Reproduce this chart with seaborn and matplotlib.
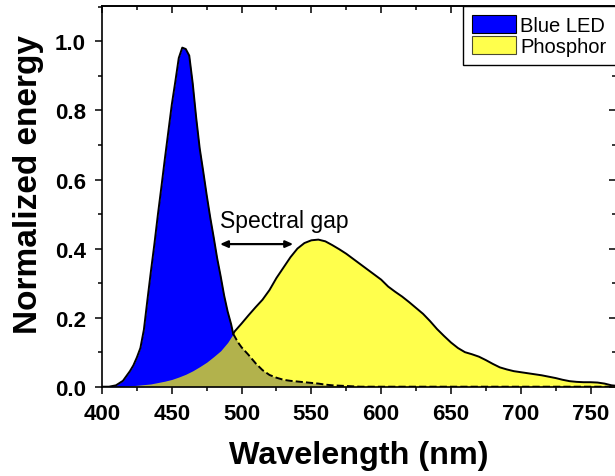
import numpy as np
import pandas as pd
import matplotlib
matplotlib.use("Agg")
import matplotlib.pyplot as plt
from matplotlib.patches import Patch
from matplotlib.ticker import MultipleLocator
import seaborn as sns

# ---------------- data ----------------
blue_wavelength = [400, 405, 410, 415, 420, 422.5, 425, 427.5, 430, 432.5,
                   435, 437.5, 440, 442.5, 445, 447.5, 450, 452.5, 455, 457.5,
                   460, 462.5, 465, 467.5, 470, 472.5, 475, 477.5, 480, 482.5,
                   485, 487.5, 490, 492.5, 494, 497.5, 500, 502.5, 505, 510,
                   515, 520, 525, 530, 535, 540, 545, 550, 555, 560,
                   565, 570, 575, 580, 585, 600, 650, 700, 770]
blue_led = [0.000, 0.000, 0.004, 0.017, 0.045, 0.062, 0.085, 0.112, 0.165, 0.250,
            0.333, 0.412, 0.497, 0.577, 0.659, 0.738, 0.817, 0.883, 0.952, 0.982,
            0.978, 0.959, 0.878, 0.778, 0.690, 0.624, 0.555, 0.491, 0.433, 0.372,
            0.320, 0.264, 0.218, 0.181, 0.153, 0.128, 0.114, 0.103, 0.092, 0.068,
            0.048, 0.034, 0.026, 0.020, 0.017, 0.015, 0.013, 0.011, 0.009, 0.006,
            0.004, 0.003, 0.002, 0.001, 0.000, 0.000, 0.000, 0.000, 0.000]

phosphor_wavelength = [400, 405, 410, 415, 420, 425, 430, 435, 440, 445,
                       450, 455, 460, 465, 470, 475, 480, 485, 490, 494,
                       495, 500, 505, 510, 515, 520, 525, 530, 535, 540,
                       545, 550, 555, 560, 565, 570, 575, 580, 585, 590,
                       595, 600, 605, 610, 615, 620, 625, 630, 635, 640,
                       645, 650, 655, 660, 665, 670, 675, 680, 685, 690,
                       695, 700, 705, 710, 715, 720, 725, 730, 735, 740,
                       745, 750, 755, 760, 765, 770]
phosphor = [0.000, 0.000, 0.000, 0.001, 0.002, 0.004, 0.006, 0.008, 0.012, 0.016,
            0.021, 0.028, 0.036, 0.046, 0.058, 0.071, 0.087, 0.104, 0.128, 0.153,
            0.160, 0.183, 0.207, 0.230, 0.252, 0.280, 0.315, 0.345, 0.375, 0.400,
            0.416, 0.424, 0.426, 0.421, 0.410, 0.398, 0.385, 0.370, 0.355, 0.340,
            0.325, 0.310, 0.290, 0.275, 0.261, 0.245, 0.228, 0.211, 0.190, 0.167,
            0.147, 0.128, 0.112, 0.100, 0.094, 0.087, 0.077, 0.066, 0.056, 0.050,
            0.045, 0.042, 0.039, 0.036, 0.033, 0.029, 0.025, 0.020, 0.016, 0.014,
            0.013, 0.013, 0.012, 0.009, 0.004, 0.002]

crossing_wavelength = 494  # where the phosphor curve rises above the LED tail
series_labels = ["Blue LED", "Phosphor"]
x_label = "Wavelength (nm)"
y_label = "Normalized energy"
gap_label = "Spectral gap"
x_ticks = [400, 450, 500, 550, 600, 650, 700, 750]
y_ticks = [0.0, 0.2, 0.4, 0.6, 0.8, 1.0]

# ---------------- style ----------------
sns.set_style("ticks")
plt.rcParams["font.family"] = ["Liberation Sans", "DejaVu Sans"]
plt.rcParams["text.color"] = "black"
plt.rcParams["axes.labelcolor"] = "black"
plt.rcParams["xtick.color"] = "black"
plt.rcParams["ytick.color"] = "black"
plt.rcParams["axes.edgecolor"] = "black"

blue_df = pd.DataFrame({"wl": blue_wavelength, "val": blue_led})
phos_df = pd.DataFrame({"wl": phosphor_wavelength, "val": phosphor})

fig = plt.figure(figsize=(6.15, 4.77), dpi=100)
ax = fig.add_axes([102 / 615, 1 - 387.7 / 477, 513.7 / 615, 380.4 / 477])

ax.fill_between(blue_df["wl"], blue_df["val"], 0, color="#0000FF", lw=0, zorder=1)
ax.fill_between(phos_df["wl"], phos_df["val"], 0, color="#FFFF00", alpha=0.7,
                lw=0, zorder=2)

lw = 1.4
sns.lineplot(data=blue_df[blue_df["wl"] <= crossing_wavelength], x="wl", y="val",
             color="black", lw=lw, errorbar=None, ax=ax, zorder=4)
sns.lineplot(data=blue_df[blue_df["wl"] >= crossing_wavelength], x="wl", y="val",
             color="black", lw=lw, errorbar=None, ax=ax, zorder=3,
             linestyle="--", dashes=(3.2, 2.0))
sns.lineplot(data=phos_df[phos_df["wl"] >= crossing_wavelength], x="wl", y="val",
             color="black", lw=lw, errorbar=None, ax=ax, zorder=4)

ax.set_xlim(400, 768)
ax.set_ylim(0, 1.1017)
ax.set_xticks(x_ticks)
ax.set_yticks(y_ticks)
ax.set_yticklabels([f"{v:.1f}" for v in y_ticks])
ax.xaxis.set_minor_locator(MultipleLocator(25))
ax.yaxis.set_minor_locator(MultipleLocator(0.1))

ax.tick_params(which="both", direction="out", width=1.1, colors="black",
               labelsize=16, pad=6.5)
ax.tick_params(which="major", length=5)
ax.tick_params(which="minor", length=3)
for lab in ax.get_xticklabels() + ax.get_yticklabels():
    lab.set_fontweight("bold")

for s in ax.spines.values():
    s.set_visible(True)
    s.set_linewidth(1.2)
    s.set_color("black")

# inward ticks on top and right
top = ax.secondary_xaxis("top")
top.set_xticks(x_ticks)
top.xaxis.set_minor_locator(MultipleLocator(25))
top.tick_params(which="both", direction="in", labeltop=False, width=1.1)
top.tick_params(which="major", length=5)
top.tick_params(which="minor", length=3)
top.spines["top"].set_linewidth(1.2)
right = ax.secondary_yaxis("right")
right.set_yticks(y_ticks)
right.yaxis.set_minor_locator(MultipleLocator(0.1))
right.tick_params(which="both", direction="in", labelright=False, width=1.1)
right.tick_params(which="major", length=5)
right.tick_params(which="minor", length=3)

ax.set_xlabel(x_label, fontsize=23.3, fontweight="bold", labelpad=12, color="black")
ax.set_ylabel(y_label, fontsize=24, fontweight="bold", color="black")
ax.yaxis.set_label_coords(-0.113, 0.533)

ax.annotate("", xy=(484.5, 0.413), xytext=(537, 0.413),
            arrowprops=dict(arrowstyle="<|-|>,head_length=0.45,head_width=0.2",
                            color="black", lw=1.6, shrinkA=0, shrinkB=0),
            zorder=6)
ax.text(484.5, 0.462, gap_label, fontsize=16.5, ha="left", va="baseline",
        color="black", zorder=6)

handles = [Patch(facecolor="#0000FF", edgecolor="black", lw=0.8),
           Patch(facecolor="#FFFF00", alpha=0.7, edgecolor="black", lw=0.8)]
leg = ax.legend(handles, series_labels, loc="upper right", borderaxespad=0,
                frameon=True, fancybox=False, framealpha=1, edgecolor="black",
                fontsize=14.5, handlelength=2.2, handleheight=1.0,
                handletextpad=0.2, labelspacing=0.05, borderpad=0.45)
leg.get_frame().set_linewidth(1.0)
for t in leg.get_texts():
    t.set_color("black")
leg.set_zorder(10)

fig.savefig("out.png", dpi=100)
